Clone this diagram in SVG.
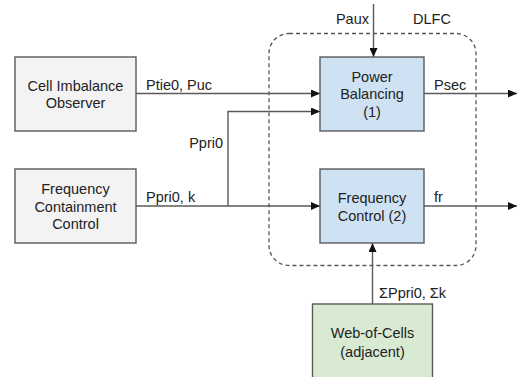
<svg xmlns="http://www.w3.org/2000/svg" width="517" height="377" viewBox="0 0 517 377">
<style>
text{font-family:"Liberation Sans",Arial,sans-serif;font-size:14.5px;fill:#222;}
.c{text-anchor:middle;}
.box{stroke:#5a5a5a;stroke-width:1.4;}
.gray{fill:#f3f3f3;}
.blue{fill:#cfe2f3;}
.green{fill:#d9ead3;}
.ln{fill:none;stroke:#5a5a5a;stroke-width:1.4;}
</style>
<defs>
<marker id="ah" markerWidth="10" markerHeight="8" refX="9" refY="4" orient="auto" markerUnits="userSpaceOnUse">
<path d="M0,0 L9,4 L0,8 Z" fill="#111"/>
</marker>
</defs>
<rect width="517" height="377" fill="#fff"/>
<g id="dlfc">
<rect x="269" y="33.5" width="207" height="232" rx="20" ry="20" fill="none" stroke="#555" stroke-width="1.3" stroke-dasharray="4,3"/>
<text x="432" y="24" class="c">DLFC</text>
</g>
<g id="connectors">
<line class="ln" x1="136" y1="93.5" x2="320" y2="93.5" marker-end="url(#ah)"/>
<text x="146" y="90">Ptie0, Puc</text>
<line class="ln" x1="136" y1="206" x2="320" y2="206" marker-end="url(#ah)"/>
<text x="146" y="202">Ppri0, k</text>
<polyline class="ln" points="228,206 228,111.5 320,111.5" marker-end="url(#ah)"/>
<text x="223" y="148" text-anchor="end">Ppri0</text>
<line class="ln" x1="373.5" y1="4" x2="373.5" y2="57" marker-end="url(#ah)"/>
<text x="369" y="24" text-anchor="end">Paux</text>
<line class="ln" x1="424" y1="93.5" x2="517" y2="93.5" marker-end="url(#ah)"/>
<text x="434" y="90">Psec</text>
<line class="ln" x1="424" y1="206" x2="517" y2="206" marker-end="url(#ah)"/>
<text x="434" y="202">fr</text>
<line class="ln" x1="372.5" y1="304" x2="372.5" y2="243" marker-end="url(#ah)"/>
<text x="379" y="298">ΣPpri0, Σk</text>
</g>
<g id="cell-imbalance-observer">
<rect class="box gray" x="15" y="57" width="121" height="74"/>
<text x="75.5" y="91" class="c">Cell Imbalance</text>
<text x="75.5" y="108" class="c">Observer</text>
</g>
<g id="frequency-containment-control">
<rect class="box gray" x="15" y="169" width="121" height="74"/>
<text x="75.5" y="194" class="c">Frequency</text>
<text x="75.5" y="211.5" class="c">Containment</text>
<text x="75.5" y="229" class="c">Control</text>
</g>
<g id="power-balancing">
<rect class="box blue" x="320" y="57" width="104" height="74"/>
<text x="372" y="82" class="c">Power</text>
<text x="372" y="99" class="c">Balancing</text>
<text x="372" y="117" class="c">(1)</text>
</g>
<g id="frequency-control">
<rect class="box blue" x="320" y="169" width="104" height="74"/>
<text x="372" y="203" class="c">Frequency</text>
<text x="372" y="221" class="c">Control (2)</text>
</g>
<g id="web-of-cells">
<rect class="box green" x="312.5" y="304" width="120" height="80"/>
<text x="372.5" y="338" class="c">Web-of-Cells</text>
<text x="372.5" y="356.5" class="c">(adjacent)</text>
</g>
</svg>
